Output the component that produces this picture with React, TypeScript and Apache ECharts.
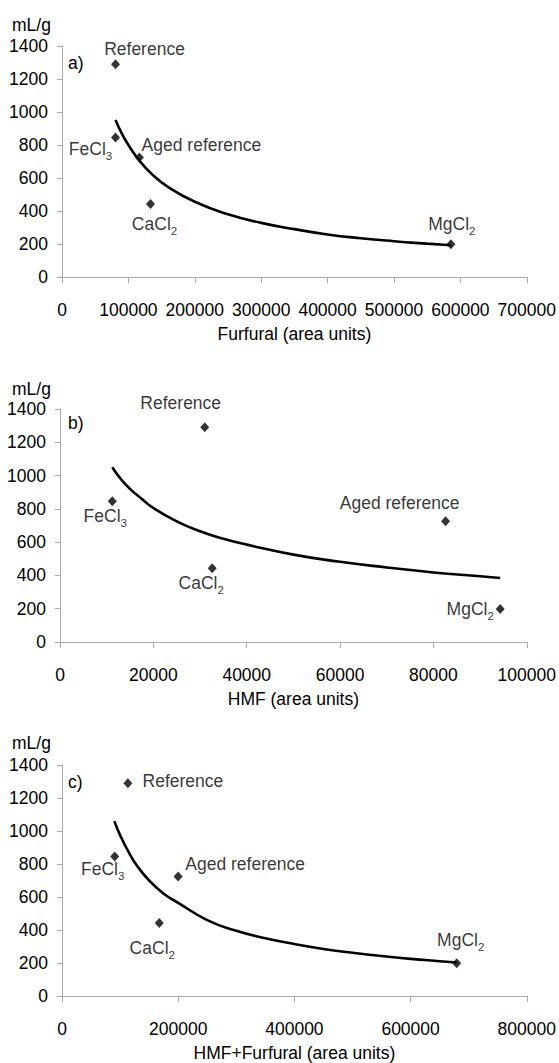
import React, { useEffect, useRef } from "react";
import * as echarts from "echarts";

// ---- data ----
const sampleNames = ["Reference", "FeCl3", "Aged reference", "CaCl2", "MgCl2"];
const mlPerG = [1290, 845, 725, 443, 198];

const furfuralX = [80600, 80600, 116600, 133300, 585700];
const hmfX = [31000, 11200, 82600, 32600, 94300];
const sumX = [113400, 90700, 199900, 167400, 679300];

const fitFurfuralX = [80600, 90000, 100000, 116600, 135000, 160000, 200000, 250000, 300000, 350000, 400000, 450000, 500000, 550000, 585700];
const fitFurfuralY = [952, 870, 800, 705, 625, 545, 456, 380, 328, 290, 258, 235, 217, 202, 192];

const fitHmfX = [11200, 13000, 15000, 17500, 20000, 25000, 30000, 35000, 40000, 50000, 60000, 70000, 80000, 90000, 94300];
const fitHmfY = [1050, 980, 920, 860, 805, 725, 665, 620, 585, 525, 482, 448, 418, 395, 385];

const fitSumX = [90100, 100000, 115000, 130000, 150000, 175000, 200000, 250000, 300000, 350000, 400000, 450000, 500000, 550000, 600000, 650000, 679300];
const fitSumY = [1060, 975, 870, 785, 700, 620, 565, 460, 395, 350, 315, 285, 262, 242, 225, 211, 203];

const panelLetters = ["a)", "b)", "c)"];
const xTitles = ["Furfural (area units)", "HMF (area units)", "HMF+Furfural (area units)"];
const xMaxes = [700000, 100000, 800000];
const xIntervals = [100000, 20000, 200000];
const yMax = 1400;
const yInterval = 200;
const yUnit = "mL/g";

// ---- layout (not data) ----
const FONT = "'Liberation Sans', Arial, sans-serif";
const FS = 17.5;
const grids = [
  { left: 62, top: 46, width: 466, height: 231 },
  { left: 60, top: 409, width: 467, height: 233 },
  { left: 62, top: 765, width: 466, height: 231 },
];
const unitY = [25, 389, 743];
const letterPos = [
  [68, 63],
  [68, 423],
  [68, 782],
];
const labelOffsets = [
  [[29, -15], [-25, 11], [62, -12], [4, 20], [1, -20]],
  [[-24, -24], [-7, 15], [-46, -18], [-11, 15], [-30, 0]],
  [[55, -2], [-12, 12], [67, -12], [-7, 25], [4, -23]],
];

const richNames: Record<string, string> = {
  Reference: "{n|Reference}",
  FeCl3: "{n|FeCl}{s|3}",
  "Aged reference": "{n|Aged reference}",
  CaCl2: "{n|CaCl}{s|2}",
  MgCl2: "{n|MgCl}{s|2}",
};

export default function App() {
  const ref = useRef<HTMLDivElement>(null);
  useEffect(() => {
    if (!ref.current) return;
    const chart = echarts.init(ref.current, undefined, { renderer: "svg" });
    const xs = [furfuralX, hmfX, sumX];
    const fits = [
      [fitFurfuralX, fitFurfuralY],
      [fitHmfX, fitHmfY],
      [fitSumX, fitSumY],
    ];
    const axisLine = { show: true, lineStyle: { color: "#a8a8a8", width: 1 } };
    const textStyle = { color: "#000", fontFamily: FONT, fontSize: FS };

    const xAxis = grids.map((_, i) => ({
      type: "value",
      gridIndex: i,
      min: 0,
      max: xMaxes[i],
      interval: xIntervals[i],
      axisLine,
      axisTick: { show: true, inside: false, length: 6, lineStyle: { color: "#a8a8a8" } },
      splitLine: { show: false },
      axisLabel: {
        ...textStyle,
        margin: 24,
        hideOverlap: false,
        showMinLabel: true,
        showMaxLabel: true,
        formatter: (v: number) => String(v),
      },
      name: xTitles[i],
      nameLocation: "middle",
      nameGap: 48,
      nameTextStyle: { ...textStyle },
    }));
    const yAxis = grids.map((_, i) => ({
      type: "value",
      gridIndex: i,
      min: 0,
      max: yMax,
      interval: yInterval,
      axisLine,
      axisTick: { show: true, inside: false, length: 5, lineStyle: { color: "#a8a8a8" } },
      splitLine: { show: false },
      axisLabel: { ...textStyle, margin: 14, formatter: (v: number) => String(v) },
    }));

    const series: any[] = [];
    grids.forEach((_, i) => {
      series.push({
        type: "line",
        xAxisIndex: i,
        yAxisIndex: i,
        data: fits[i][0].map((x, k) => [x, fits[i][1][k]]),
        smooth: true,
        showSymbol: false,
        symbol: "none",
        lineStyle: { color: "#000", width: 2.6 },
        z: 2,
      });
      series.push({
        type: "scatter",
        xAxisIndex: i,
        yAxisIndex: i,
        symbol: "diamond",
        symbolSize: [9, 10],
        itemStyle: { color: "#000" },
        z: 3,
        data: sampleNames.map((name, k) => ({
          name,
          value: [xs[i][k], mlPerG[k]],
          label: {
            show: true,
            position: "inside",
            offset: labelOffsets[i][k],
            formatter: richNames[name],
            rich: {
              n: { fontFamily: FONT, fontSize: FS, color: "#000", lineHeight: 26 },
              s: { fontFamily: FONT, fontSize: 11.5, color: "#000", verticalAlign: "bottom", lineHeight: 26 },
            },
          },
        })),
      });
    });

    const graphic: any[] = [];
    grids.forEach((_, i) => {
      graphic.push({
        type: "text",
        x: 12,
        y: unitY[i],
        style: { text: yUnit, font: `${FS}px ${FONT}`, fill: "#000", verticalAlign: "middle" },
      });
      graphic.push({
        type: "text",
        x: letterPos[i][0],
        y: letterPos[i][1],
        style: { text: panelLetters[i], font: `${FS}px ${FONT}`, fill: "#000", verticalAlign: "middle" },
      });
    });

    chart.setOption({
      animation: false,
      backgroundColor: "#fff",
      grid: grids.map((g) => ({ ...g, containLabel: false })),
      xAxis,
      yAxis,
      series,
      graphic,
    });
    return () => chart.dispose();
  }, []);
  return (
    <div
      ref={ref}
      style={{ position: "fixed", left: 0, top: 0, width: 559, height: 1063, background: "#fff" }}
    />
  );
}
